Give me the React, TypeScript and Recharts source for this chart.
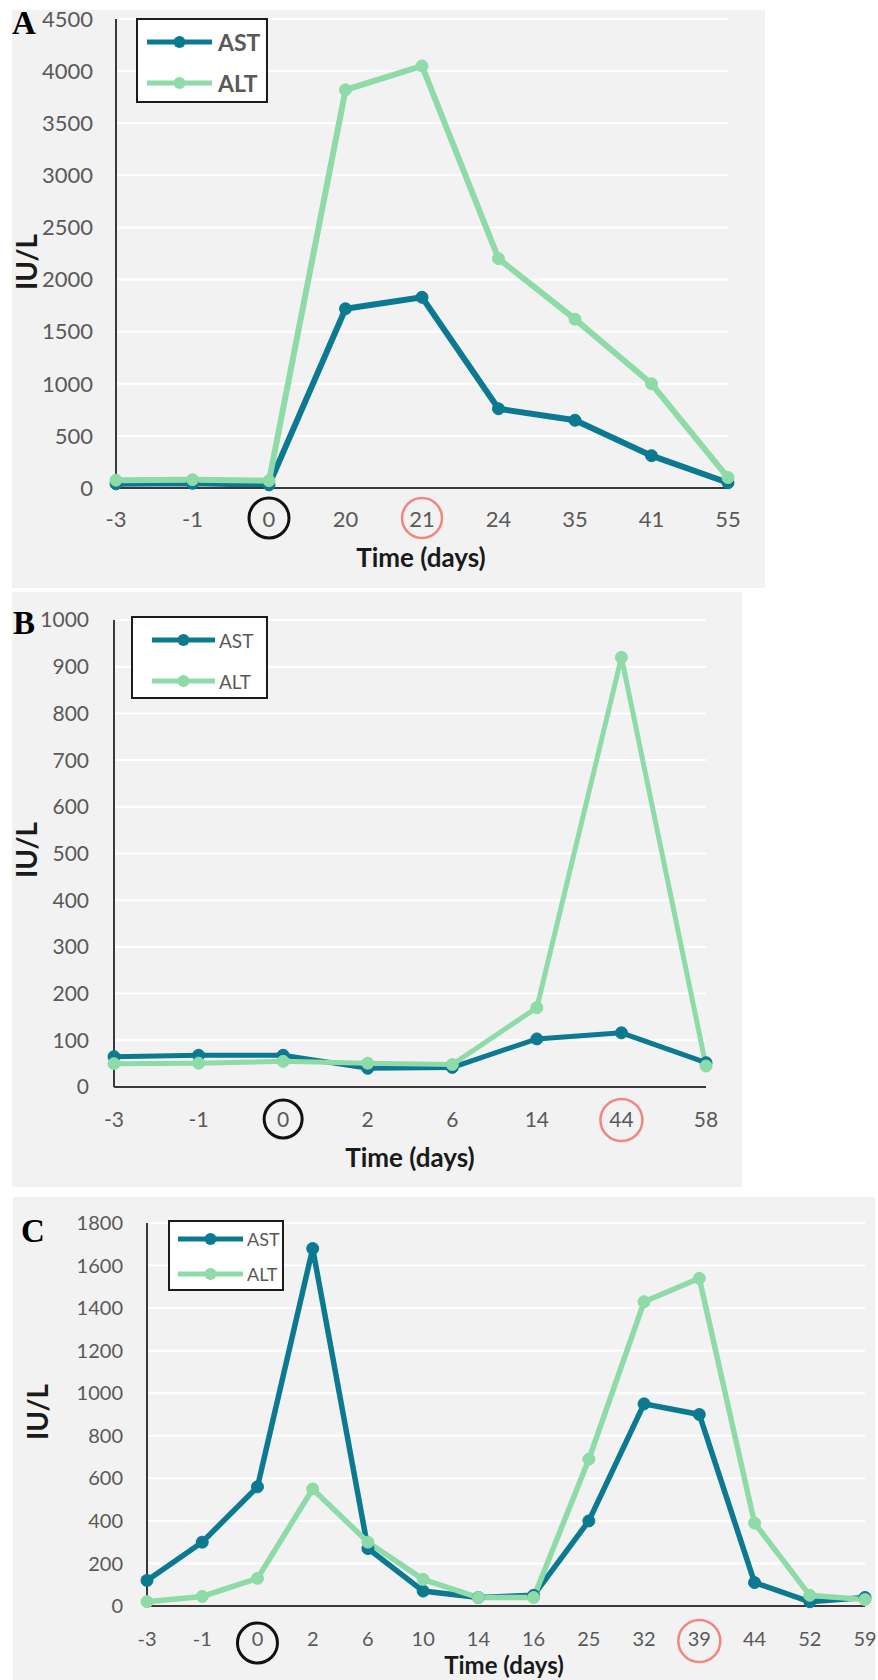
import React from "react"
import { LineChart, Line, XAxis, YAxis, CartesianGrid, Legend } from "recharts"

const AST_COLOR = "#0B7A91"
const ALT_COLOR = "#8EDBA8"
const BG = "#F2F2F2"
const TXT = "#595959"
const FONT = "Lato, 'Open Sans', sans-serif"

// panel A
const daysA = ["-3", "-1", "0", "20", "21", "24", "35", "41", "55"]
const astA = [40, 45, 30, 1720, 1830, 760, 650, 310, 50]
const altA = [75, 80, 70, 3820, 4050, 2200, 1620, 1000, 100]
const ticksA = [0, 500, 1000, 1500, 2000, 2500, 3000, 3500, 4000, 4500]

// panel B
const daysB = ["-3", "-1", "0", "2", "6", "14", "44", "58"]
const astB = [65, 68, 68, 40, 42, 103, 116, 52]
const altB = [50, 51, 55, 51, 48, 170, 920, 45]
const ticksB = [0, 100, 200, 300, 400, 500, 600, 700, 800, 900, 1000]

// panel C
const daysC = ["-3", "-1", "0", "2", "6", "10", "14", "16", "25", "32", "39", "44", "52", "59"]
const astC = [120, 300, 560, 1680, 270, 70, 40, 50, 400, 950, 900, 110, 20, 40]
const altC = [20, 45, 130, 550, 300, 125, 40, 40, 690, 1430, 1540, 390, 50, 30]
const ticksC = [0, 200, 400, 600, 800, 1000, 1200, 1400, 1600, 1800]

const seriesOrder = ["AST", "ALT"]

type Box = { left: number; top: number; width: number; height: number }

interface PanelProps {
    letter: string
    letterPos: { left: number; top: number }
    days: string[]
    ast: number[]
    alt: number[]
    ticks: number[]
    bg: Box
    chart: Box
    plot: { left: number; right: number; top: number; bottom: number }
    yLabelGap: number
    tickFs: number
    xLabelOffset: number
    circles: Record<string, { color: string; r: number; dy: number; w: number }>
    legend: Box & { rowA: number; rowB: number; x1: number; x2: number; tx: number; fs: number; bold: boolean; lw: number }
    lineW: number
    dotR: number
    title: { x: number; y: number; fs: number }
    yTitle: { x: number; y: number }
}

const Y_AXIS_W = 60
const X_AXIS_H = 60

function Panel(p: PanelProps) {
    const data = p.days.map((d, i) => ({ day: d, AST: p.ast[i], ALT: p.alt[i] }))
    const margin = {
        top: p.plot.top - p.chart.top,
        left: p.plot.left - p.chart.left - Y_AXIS_W,
        right: p.chart.left + p.chart.width - p.plot.right,
        bottom: p.chart.top + p.chart.height - p.plot.bottom - X_AXIS_H,
    }
    const lg = p.legend

    const renderTick = (props: any) => {
        const { x, y, payload } = props
        const c = p.circles[payload.value]
        return (
            <g>
                <text
                    x={x}
                    y={y + p.xLabelOffset}
                    textAnchor="middle"
                    dominantBaseline="central"
                    fill={TXT}
                    fontSize={p.tickFs}
                    fontFamily={FONT}
                >
                    {payload.value}
                </text>
                {c && (
                    <circle cx={x} cy={y + p.xLabelOffset + c.dy} r={c.r} fill="none" stroke={c.color} strokeWidth={c.w} />
                )}
            </g>
        )
    }

    const renderLegend = (props: any) => {
        const items = [...(props.payload ?? [])].sort(
            (a: any, b: any) => seriesOrder.indexOf(a.value) - seriesOrder.indexOf(b.value)
        )
        return (
            <div
                style={{
                    width: lg.width,
                    height: lg.height,
                    boxSizing: "border-box",
                    border: "2px solid #1c1c1c",
                    background: "#fff",
                }}
            >
                <svg width={lg.width - 4} height={lg.height - 4} style={{ display: "block" }}>
                    {items.map((it: any, i: number) => {
                        const cy = (i === 0 ? lg.rowA : lg.rowB) - 2
                        return (
                            <g key={it.value}>
                                <line x1={lg.x1 - 2} x2={lg.x2 - 2} y1={cy} y2={cy} stroke={it.color} strokeWidth={lg.lw} />
                                <circle cx={(lg.x1 + lg.x2) / 2 - 2} cy={cy} r={lg.lw + 1} fill={it.color} />
                                <text
                                    x={lg.tx - 2}
                                    y={cy}
                                    dominantBaseline="central"
                                    fontSize={lg.fs}
                                    fontWeight={lg.bold ? 700 : 400}
                                    fill={TXT}
                                    fontFamily={FONT}
                                >
                                    {it.value}
                                </text>
                            </g>
                        )
                    })}
                </svg>
            </div>
        )
    }

    return (
        <>
            <div style={{ position: "absolute", ...p.bg, background: BG }} />
            <div
                style={{
                    position: "absolute",
                    left: p.letterPos.left,
                    top: p.letterPos.top,
                    fontFamily: "'Liberation Serif', 'Times New Roman', serif",
                    fontWeight: 700,
                    fontSize: 33,
                    lineHeight: "33px",
                    color: "#000",
                }}
            >
                {p.letter}
            </div>
            <div
                style={{
                    position: "absolute",
                    left: p.yTitle.x,
                    top: p.yTitle.y,
                    transform: "translate(-50%, -50%) rotate(-90deg)",
                    fontFamily: FONT,
                    fontWeight: 700,
                    fontSize: 28,
                    lineHeight: "28px",
                    color: "#1a1a1a",
                    whiteSpace: "nowrap",
                }}
            >
                IU/L
            </div>
            <div
                style={{
                    position: "absolute",
                    left: p.title.x,
                    top: p.title.y,
                    transform: "translate(-50%, -50%)",
                    fontFamily: FONT,
                    fontWeight: 700,
                    fontSize: p.title.fs,
                    lineHeight: `${p.title.fs}px`,
                    color: "#1a1a1a",
                    whiteSpace: "nowrap",
                }}
            >
                Time (days)
            </div>
            <div style={{ position: "absolute", left: p.chart.left, top: p.chart.top }}>
                <LineChart width={p.chart.width} height={p.chart.height} data={data} margin={margin}>
                    <CartesianGrid vertical={false} stroke="#FFFFFF" strokeWidth={2} />
                    <XAxis
                        dataKey="day"
                        height={X_AXIS_H}
                        axisLine={{ stroke: "#3a3a3a", strokeWidth: 2 }}
                        tickLine={false}
                        tickSize={0}
                        tickMargin={0}
                        interval={0}
                        tick={renderTick}
                    />
                    <YAxis
                        width={Y_AXIS_W}
                        domain={[p.ticks[0], p.ticks[p.ticks.length - 1]]}
                        ticks={p.ticks}
                        interval={0}
                        axisLine={{ stroke: "#3a3a3a", strokeWidth: 2 }}
                        tickLine={false}
                        tickSize={0}
                        tickMargin={p.yLabelGap}
                        tick={{ fill: TXT, fontSize: p.tickFs, fontFamily: FONT }}
                    />
                    <Legend
                        layout="horizontal"
                        verticalAlign="middle"
                        align="center"
                        content={renderLegend}
                        wrapperStyle={{ left: lg.left, top: lg.top, width: lg.width, height: lg.height }}
                    />
                    <Line
                        dataKey="AST"
                        name="AST"
                        stroke={AST_COLOR}
                        strokeWidth={p.lineW}
                        dot={{ r: p.dotR, fill: AST_COLOR, stroke: AST_COLOR, strokeWidth: 1 }}
                        activeDot={false}
                        isAnimationActive={false}
                    />
                    <Line
                        dataKey="ALT"
                        name="ALT"
                        stroke={ALT_COLOR}
                        strokeWidth={p.lineW}
                        dot={{ r: p.dotR, fill: ALT_COLOR, stroke: ALT_COLOR, strokeWidth: 1 }}
                        activeDot={false}
                        isAnimationActive={false}
                    />
                </LineChart>
            </div>
        </>
    )
}

const BLACK_RING = "#111111"
const RED_RING = "#F2857F"

export default function App() {
    return (
        <div
            style={{
                position: "absolute",
                left: 0,
                top: 0,
                width: 878,
                height: 1680,
                background: "#fff",
                overflow: "hidden",
            }}
        >
            <Panel
                letter="A"
                letterPos={{ left: 12, top: 7 }}
                days={daysA}
                ast={astA}
                alt={altA}
                ticks={ticksA}
                bg={{ left: 12, top: 10, width: 753, height: 578 }}
                chart={{ left: 12, top: 0, width: 753, height: 588 }}
                plot={{ left: 116, right: 728, top: 19, bottom: 488 }}
                yLabelGap={23}
                tickFs={22}
                xLabelOffset={30}
                circles={{
                    "0": { color: BLACK_RING, r: 20, dy: 0, w: 3 },
                    "21": { color: RED_RING, r: 20, dy: 0, w: 2.5 },
                }}
                legend={{ left: 124, top: 18, width: 132, height: 85, rowA: 24, rowB: 65, x1: 11, x2: 76, tx: 82, fs: 23, bold: true, lw: 5 }}
                lineW={6}
                dotR={6}
                title={{ x: 421, y: 557, fs: 26 }}
                yTitle={{ x: 26, y: 262 }}
            />
            <Panel
                letter="B"
                letterPos={{ left: 13, top: 607 }}
                days={daysB}
                ast={astB}
                alt={altB}
                ticks={ticksB}
                bg={{ left: 12, top: 592, width: 730, height: 595 }}
                chart={{ left: 12, top: 592, width: 730, height: 595 }}
                plot={{ left: 114, right: 706, top: 620, bottom: 1087 }}
                yLabelGap={25}
                tickFs={21}
                xLabelOffset={31}
                circles={{
                    "0": { color: BLACK_RING, r: 19, dy: 1, w: 3 },
                    "44": { color: RED_RING, r: 21, dy: 2, w: 2.5 },
                }}
                legend={{ left: 119, top: 24, width: 137, height: 83, rowA: 24, rowB: 65, x1: 21, x2: 84, tx: 88, fs: 19, bold: false, lw: 5 }}
                lineW={5}
                dotR={6}
                title={{ x: 410, y: 1157, fs: 26 }}
                yTitle={{ x: 26, y: 850 }}
            />
            <Panel
                letter="C"
                letterPos={{ left: 21, top: 1215 }}
                days={daysC}
                ast={astC}
                alt={altC}
                ticks={ticksC}
                bg={{ left: 13, top: 1197, width: 862, height: 483 }}
                chart={{ left: 13, top: 1197, width: 865, height: 483 }}
                plot={{ left: 147, right: 865, top: 1223, bottom: 1606 }}
                yLabelGap={24}
                tickFs={20}
                xLabelOffset={32}
                circles={{
                    "0": { color: BLACK_RING, r: 20, dy: 5, w: 3 },
                    "39": { color: RED_RING, r: 21, dy: 3, w: 2.5 },
                }}
                legend={{ left: 155, top: 23, width: 116, height: 71, rowA: 19, rowB: 54, x1: 10, x2: 75, tx: 79, fs: 18, bold: false, lw: 5 }}
                lineW={5.5}
                dotR={6}
                title={{ x: 504, y: 1665, fs: 24 }}
                yTitle={{ x: 37, y: 1412 }}
            />
        </div>
    )
}
